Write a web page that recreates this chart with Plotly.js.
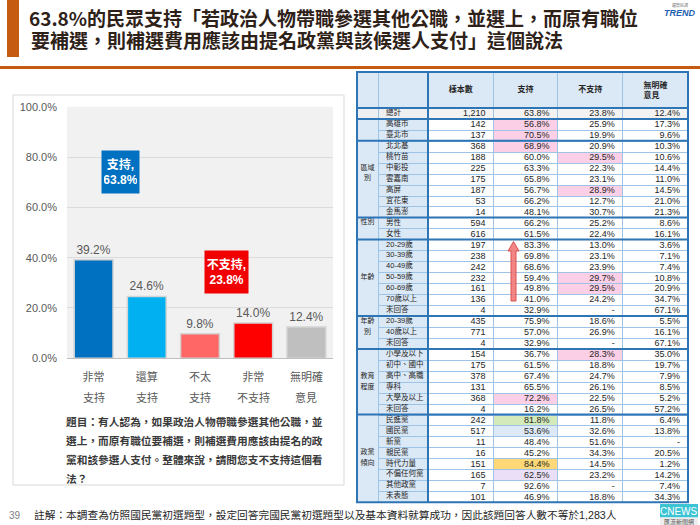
<!DOCTYPE html>
<html><head><meta charset="utf-8">
<script src="https://cdn.plot.ly/plotly-3.0.1.min.js"></script>
<style>html,body{margin:0;padding:0;background:#fff}#chart{width:700px;height:525px}</style>
</head><body><div id="chart"></div>
<script>
// ---------- chart data ----------
const categories = ['非常支持','還算支持','不太支持','非常不支持','無明確意見'];
const tickLine1 = ['非常','還算','不太','非常','無明確'];
const tickLine2 = ['支持','支持','支持','不支持','意見'];
const shares = [39.2, 24.6, 9.8, 14.0, 12.4];
const barColors = ['#0070C0','#00B0F0','#FF6666','#FF0000','#BFBFBF'];
const yTicks = [0, 20, 40, 60, 80, 100];
const supportLabel = '支持,';
const opposeLabel = '不支持,';

const titleLines = ['63.8%的民眾支持「若政治人物帶職參選其他公職，並選上，而原有職位',
                    '要補選，則補選費用應該由提名政黨與該候選人支付」這個說法'];
const questionLines = ['題目：有人認為，如果政治人物帶職參選其他公職，並',
                       '選上，而原有職位要補選，則補選費用應該由提名的政',
                       '黨和該參選人支付。整體來說，請問您支不支持這個看',
                       '法？'];
const footnote = '註解：本調查為仿照國民黨初選題型，設定回答完國民黨初選題型以及基本資料就算成功，因此該題回答人數不等於1,283人';
const pageNumber = '39';

// ---------- table data ----------
const tableHeader = ['', '', '樣本數', '支持', '不支持', '無明確<br>意見'];
const rowLabels = ['總計','高雄市','臺北市','北北基','桃竹苗','中彰投','雲嘉南','高屏','宜花東','金馬澎',
  '男性','女性','20-29歲','30-39歲','40-49歲','50-59歲','60-69歲','70歲以上','未回答',
  '20-39歲','40歲以上','未回答','小學及以下','初中、國中','高中、高職','專科','大學及以上','未回答',
  '民進黨','國民黨','新黨','親民黨','時代力量','不偏任何黨','其他政黨','未表態'];
const sampleSizes = [1210,142,137,368,188,225,175,187,53,14,594,616,197,238,242,232,161,136,4,
  435,771,4,154,175,378,131,368,4,242,517,11,16,151,165,7,101];
const supportPct = [63.8,56.8,70.5,68.9,60.0,63.3,65.8,56.7,66.2,48.1,66.2,61.5,83.3,69.8,68.6,59.4,49.8,41.0,32.9,
  75.9,57.0,32.9,36.7,61.5,67.4,65.5,72.2,16.2,81.8,53.6,48.4,45.2,84.4,62.5,92.6,46.9];
const opposePct = [23.8,25.9,19.9,20.9,29.5,22.3,23.1,28.9,12.7,30.7,25.2,22.4,13.0,23.1,23.9,29.7,29.5,24.2,null,
  18.6,26.9,null,28.3,18.8,24.7,26.1,22.5,26.5,11.8,32.6,51.6,34.3,14.5,23.2,null,18.8];
const noOpinionPct = [12.4,17.3,9.6,10.3,10.6,14.4,11.0,14.5,21.0,21.3,8.6,16.1,3.6,7.1,7.4,10.8,20.9,34.7,67.1,
  5.5,16.1,67.1,35.0,19.7,7.9,8.5,5.2,57.2,6.4,13.8,null,20.5,1.2,14.2,7.4,34.3];
const groupSizes = [1, 2, 7, 2, 7, 3, 6, 8];
const groupLabelLines = [[], [], ['區域','別'], ['性別'], ['年齡'], ['年齡','別'], ['教育','程度'], ['政黨','傾向']];
// highlighted cells: [row label, column, colour key]
const highlights = [['高雄市','支持','pink'],['臺北市','支持','pink'],['北北基','支持','pink'],
  ['桃竹苗','不支持','pink'],['高屏','不支持','pink'],['50-59歲','不支持','pink'],['60-69歲','不支持','pink'],
  ['小學及以下','不支持','pink'],['大學及以上','支持','pink'],['民進黨','支持','green'],['國民黨','支持','blue'],
  ['時代力量','支持','yellow'],['不偏任何黨','支持','lavender']];

// ---------- styling ----------
const W = 700, H = 525;
const px = v => v / W, py = v => 1 - v / H;
const CJK = '"Noto Sans CJK TC", sans-serif';
const MIX = '"Liberation Sans", Arial, "Noto Sans CJK TC", sans-serif';
const ORANGE = '#C55A11';
const hlColors = {pink:'#fbd0e6', green:'#d4eabb', blue:'#dde9f6', yellow:'#fdd877', lavender:'#eadff6'};
const LABEL_FILL = '#dbe8f5', TOTAL_FILL = '#eeeff1', HEAD_FILL = '#dbe8f5', THIN = '#9dc3e6', THICK = '#2e75b6';
const CLEAR = 'rgba(0,0,0,0)';

const fmtPct = v => v === null ? '-' : v.toFixed(1) + '%';
const nRows = rowLabels.length;

// group label column
const col0 = new Array(nRows).fill('');
let start = 0;
groupSizes.forEach((n, g) => {
  const lines = groupLabelLines[g];
  const center = (n - 1) / 2;
  const first = Math.floor(center - (lines.length - 1) / 2);
  lines.forEach((t, i) => { col0[start + first + i] = t; });
  start += n;
});

const colNames = ['grp','label','樣本數','支持','不支持','無明確意見'];
const fills = colNames.map((c, ci) => rowLabels.map((r, ri) => {
  if (ri === 0) return ci < 2 ? TOTAL_FILL : '#f2f2f2';
  if (ci < 2) return LABEL_FILL;
  const h = highlights.find(x => x[0] === r && x[1] === c);
  return h ? hlColors[h[2]] : '#ffffff';
}));
const lineCols = colNames.map((c, ci) => rowLabels.map((r, ri) => ci === 0 ? fills[0][ri] : THIN));

// table geometry (px): top, header height, row height, left, right, text lift
const TT = 72, HH = 36, CH = 10.95, TL = 357, TR = 688, LIFT = 6.5, HEAD_DROP = 6;
const colW = [21, 50, 65, 64, 65, 65];
const tableBottom = TT + HH + nRows * CH;
const isMultiLine = h => h.indexOf('<br>') >= 0;

const traces = [{
  type: 'bar', x: categories, y: shares, xaxis: 'x', yaxis: 'y',
  marker: {color: barColors, line: {color: '#d4d4d4', width: 1.5}},
  texttemplate: '%{y:.1f}%', textposition: 'outside', cliponaxis: false,
  textfont: {family: MIX, size: 12, color: '#595959'}, hoverinfo: 'skip'
}, {
  // table body: fills, grid lines and two-line header
  type: 'table', domain: {x: [px(TL), px(TR)], y: [py(tableBottom + 4), py(TT)]},
  columnwidth: colW,
  header: {values: tableHeader.map(h => isMultiLine(h) ? h : ''), height: HH, align: 'center',
    fill: {color: HEAD_FILL}, line: {color: THIN, width: 1},
    font: {family: MIX, size: 8, color: '#262626', weight: 'bold'}},
  cells: {values: colNames.map(() => rowLabels.map(() => '')), height: CH,
    fill: {color: fills}, line: {color: lineCols, width: 1}, font: {size: 8}}
}, {
  // table text layer (vertically centred in the rows)
  type: 'table', domain: {x: [px(TL), px(TR)], y: [py(tableBottom + 4), py(TT + HEAD_DROP)]},
  columnwidth: colW,
  header: {values: tableHeader.map(h => isMultiLine(h) ? '' : h), height: HH - LIFT - HEAD_DROP, align: 'center',
    fill: {color: CLEAR}, line: {color: CLEAR, width: 0},
    font: {family: MIX, size: 8, color: '#262626', weight: 'bold'}},
  cells: {values: [col0, rowLabels, sampleSizes.map(v => v.toLocaleString('en-US')),
                   supportPct.map(fmtPct), opposePct.map(fmtPct), noOpinionPct.map(fmtPct)],
    height: CH, align: ['center','left','right','right','right','right'],
    fill: {color: CLEAR}, line: {color: CLEAR, width: 0},
    font: {family: MIX, size: [7, 7.5, 9, 9, 9, 9], color: '#262626'}}
}];

const sum = a => a.reduce((s, v) => s + v, 0);
const supportTotal = sum(shares.slice(0, 2)).toFixed(1) + '%';
const opposeTotal = sum(shares.slice(2, 4)).toFixed(1) + '%';

const annotations = [];
annotations.push({xref:'paper', yref:'paper', x: px(29), y: py(39.5), xanchor:'left', yanchor:'middle',
  text: '<b>' + titleLines[1] + '</b>', showarrow:false, font:{family: CJK, size: 19, color:'#2e2118'}});
annotations.push({xref:'x', yref:'y', x: 0.5, y: 74, text: '<b>' + supportLabel + '<br>' + supportTotal + '</b>',
  showarrow:false, bgcolor:'#0070C0', width:33, height:38, borderpad:2, font:{family: MIX, size:12, color:'#fff'}});
annotations.push({xref:'x', yref:'y', x: 2.5, y: 34.3, text: '<b>' + opposeLabel + '<br>' + opposeTotal + '</b>',
  showarrow:false, bgcolor:'#F00000', width:39, height:38, borderpad:2, font:{family: MIX, size:12, color:'#fff'}});
categories.forEach((c, i) => annotations.push({xref:'x', yref:'paper', x: c, y: py(396.7), xanchor:'center', yanchor:'middle',
  text: tickLine2[i], showarrow:false, font:{family: CJK, size: 11, color:'#595959'}}));
questionLines.forEach((t, i) => annotations.push({xref:'paper', yref:'paper', x: px(64), y: py(421 + i * 19),
  xanchor:'left', yanchor:'middle', text: '<b>' + t + '</b>', showarrow:false, font:{family: CJK, size: 10.7, color:'#3a3a3a'}}));
annotations.push({xref:'paper', yref:'paper', x: px(15), y: py(515), xanchor:'center', yanchor:'middle', text: pageNumber, showarrow:false,
  font:{family: MIX, size: 10, color:'#808080'}});
annotations.push({xref:'paper', yref:'paper', x: px(32), y: py(515), xanchor:'left', yanchor:'middle', text: footnote, showarrow:false,
  font:{family: MIX, size: 10.7, color:'#262626'}});
annotations.push({xref:'paper', yref:'paper', x: px(680), y: py(13), xanchor:'center', yanchor:'middle', text: '<b><i>TREND</i></b>', showarrow:false,
  font:{family: MIX, size: 9, color:'#1f5fb0'}});
annotations.push({xref:'paper', yref:'paper', x: px(680), y: py(5), xanchor:'center', yanchor:'middle', text: '趨勢民調', showarrow:false,
  font:{family: CJK, size: 4, color:'#777'}});
annotations.push({xref:'paper', yref:'paper', x: px(679), y: py(511), xanchor:'center', yanchor:'middle', text: 'CNEWS', showarrow:false,
  font:{family: MIX, size: 10, color:'#ffffff'}});
annotations.push({xref:'paper', yref:'paper', x: px(679), y: py(521.5), xanchor:'center', yanchor:'middle', text: '匯流新聞網', showarrow:false,
  font:{family: CJK, size: 6, color:'#555'}});

const shapes = [];
shapes.push({type:'rect', xref:'paper', yref:'paper', x0: px(7), x1: px(19), y0: py(0), y1: py(57), fillcolor: ORANGE, line:{width:0}});
shapes.push({type:'rect', xref:'paper', yref:'paper', x0: 0, x1: 1, y0: py(66), y1: py(69), fillcolor: ORANGE, line:{width:0}});
shapes.push({type:'rect', xref:'paper', yref:'paper', layer:'below', x0: px(13), x1: px(344), y0: py(95), y1: py(485), line:{color:'#d9d9d9', width:1}});
// table borders
let acc = 0;
const seps = [TT + HH];
groupSizes.slice(0, -1).forEach(n => { acc += n; seps.push(TT + HH + acc * CH); });
seps.forEach(y => shapes.push({type:'line', xref:'paper', yref:'paper', x0: px(TL), x1: px(TR), y0: py(y), y1: py(y), line:{color: THICK, width: 2}}));
const splitX = TL + colW[0] + colW[1];
shapes.push({type:'line', xref:'paper', yref:'paper', x0: px(splitX), x1: px(splitX), y0: py(TT), y1: py(tableBottom), line:{color: THICK, width: 2}});
shapes.push({type:'rect', xref:'paper', yref:'paper', x0: px(TL), x1: px(TR), y0: py(TT), y1: py(tableBottom), line:{color: THICK, width: 2}});
// arrow
const arrowPts = [[513.5,241.5],[519,251],[516,251],[516,301],[511,301],[511,251],[508,251]];
shapes.push({type:'path', xref:'paper', yref:'paper', path: 'M' + arrowPts.map(p => px(p[0]) + ',' + py(p[1])).join(' L') + ' Z',
  fillcolor:'rgba(242,120,120,0.9)', line:{color:'#d9534f', width:1}});
// cnews logo
shapes.push({type:'rect', xref:'paper', yref:'paper', x0: px(660), x1: px(698), y0: py(504), y1: py(517.5), fillcolor:'#3cc4d4', line:{width:0}});
shapes.push({type:'rect', xref:'paper', yref:'paper', x0: px(660), x1: px(698), y0: py(517.5), y1: py(525), fillcolor:'#eeeeee', line:{width:0}});

const layout = {
  width: W, height: H, autosize: false, margin: {l:0, r:0, t:0, b:0},
  paper_bgcolor: '#ffffff', plot_bgcolor: '#f1f1f1', showlegend: false, bargap: 0.27,
  title: {text: '<b>' + titleLines[0] + '</b>', xref:'paper', yref:'paper', x: px(29), xanchor:'left', y: py(19.5), yanchor:'middle',
    font: {family: CJK, size: 19, color:'#2e2118'}},
  xaxis: {domain: [px(67), px(333)], anchor:'y', type:'category', tickvals: categories, ticktext: tickLine1,
    tickfont: {family: CJK, size: 11, color:'#595959'}, showline: true, linecolor:'#bfbfbf', ticks:'',
    ticklabelstandoff: 8, fixedrange: true},
  yaxis: {domain: [py(358.3), py(106.7)], anchor:'x', range: [0, 100], tickvals: yTicks,
    ticktext: yTicks.map(v => v.toFixed(1) + '%'),
    gridcolor: '#dcdcdc', zeroline: false, showline: false, ticks:'', ticklabelstandoff: 9,
    tickfont: {family: MIX, size: 11, color:'#595959'}, fixedrange: true},
  annotations: annotations, shapes: shapes
};

Plotly.newPlot('chart', traces, layout, {staticPlot: true, displayModeBar: false});
</script></body></html>
